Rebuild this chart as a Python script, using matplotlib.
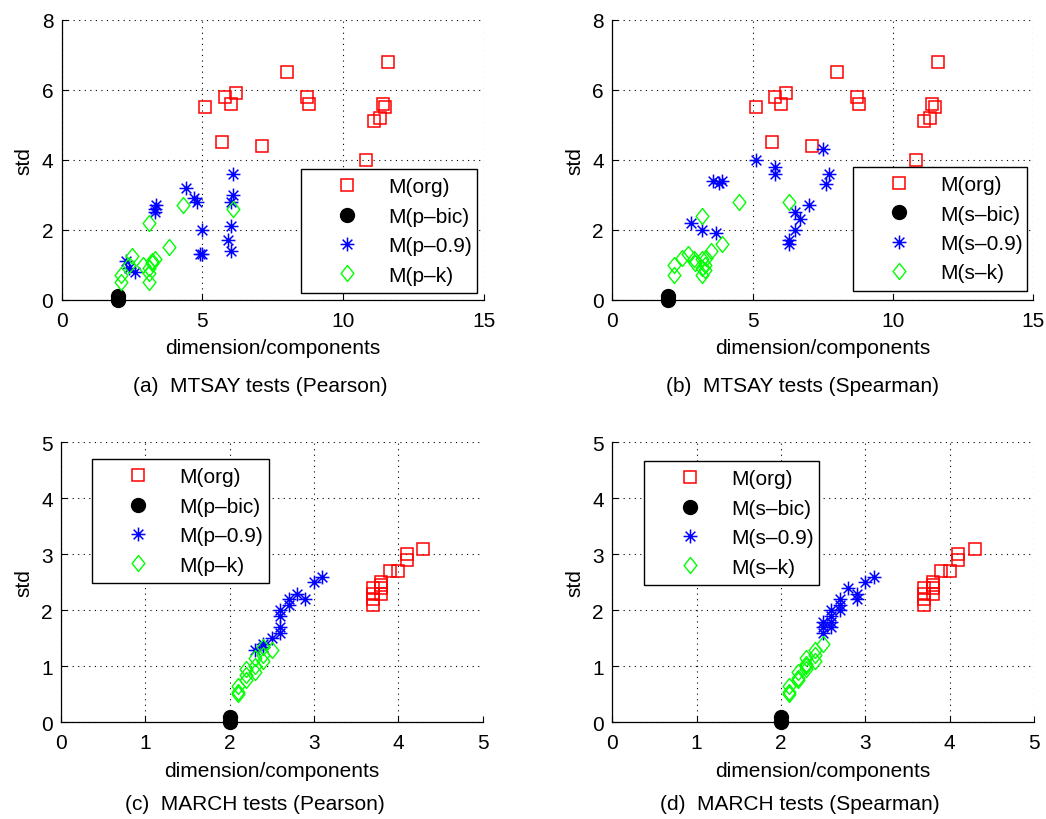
import matplotlib
matplotlib.use("Agg")
import matplotlib.pyplot as plt
from matplotlib.path import Path

# ---------------- data ----------------
# MTSAY (top row) original model, same in both panels
org_top_x = [5.1, 5.8, 6.0, 6.2, 8.0, 8.7, 8.8, 11.6, 11.4, 11.5, 11.3, 11.1, 5.7, 7.1, 10.8]
org_top_y = [5.5, 5.8, 5.6, 5.9, 6.5, 5.8, 5.6, 6.8, 5.6, 5.5, 5.2, 5.1, 4.5, 4.4, 4.0]

bic_x = [2, 2]
bic_y = [0.0, 0.1]

p09_a_x = [4.4, 4.7, 4.8, 3.35, 3.3, 3.3, 6.1, 6.1, 6.0, 5.0, 6.0, 5.9, 6.0, 4.9, 5.0, 2.3, 2.4, 2.6]
p09_a_y = [3.2, 2.9, 2.8, 2.7, 2.6, 2.5, 3.6, 3.0, 2.8, 2.0, 2.1, 1.7, 1.4, 1.3, 1.3, 1.1, 0.9, 0.8]

pk_a_x = [4.3, 6.1, 3.1, 3.8, 2.5, 2.4, 2.9, 3.3, 3.2, 3.1, 3.1, 3.1, 3.2, 2.1, 2.1]
pk_a_y = [2.7, 2.6, 2.2, 1.5, 1.25, 1.0, 1.0, 1.15, 1.05, 0.9, 0.75, 0.5, 1.1, 0.7, 0.5]

s09_b_x = [5.1, 5.8, 5.8, 3.6, 3.8, 3.9, 7.5, 7.7, 7.6, 7.0, 6.5, 6.7, 6.5, 6.3, 6.3, 2.8, 3.2, 3.7]
s09_b_y = [4.0, 3.8, 3.6, 3.4, 3.35, 3.4, 4.3, 3.6, 3.3, 2.7, 2.5, 2.3, 2.0, 1.7, 1.6, 2.2, 2.0, 1.9]

sk_b_x = [4.5, 6.3, 3.2, 3.9, 3.5, 2.2, 2.2, 2.5, 2.7, 2.9, 2.95, 3.2, 3.35, 3.3, 3.2, 3.2, 3.3]
sk_b_y = [2.8, 2.8, 2.4, 1.6, 1.4, 1.0, 0.7, 1.2, 1.3, 1.15, 1.05, 1.15, 1.2, 1.0, 0.9, 0.7, 0.85]

# MARCH (bottom row)
org_bot_x = [4.3, 4.1, 4.1, 4.0, 3.9, 3.8, 3.8, 3.8, 3.8, 3.7, 3.7, 3.7, 3.7]
org_bot_y = [3.1, 3.0, 2.9, 2.7, 2.7, 2.5, 2.4, 2.3, 2.45, 2.4, 2.3, 2.2, 2.1]

p09_c_x = [3.1, 3.0, 2.8, 2.9, 2.7, 2.7, 2.6, 2.6, 2.6, 2.6, 2.5, 2.4, 2.4, 2.3]
p09_c_y = [2.6, 2.5, 2.3, 2.2, 2.2, 2.1, 2.0, 1.9, 1.7, 1.6, 1.5, 1.4, 1.35, 1.3]

pk_c_x = [2.5, 2.4, 2.4, 2.4, 2.3, 2.3, 2.3, 2.2, 2.2, 2.2, 2.1, 2.1, 2.1]
pk_c_y = [1.3, 1.35, 1.2, 1.1, 1.15, 1.0, 0.9, 0.95, 0.85, 0.75, 0.65, 0.55, 0.5]

s09_d_x = [3.1, 3.0, 2.8, 2.9, 2.9, 2.7, 2.7, 2.7, 2.6, 2.6, 2.6, 2.6, 2.5, 2.5, 2.5]
s09_d_y = [2.6, 2.5, 2.4, 2.3, 2.2, 2.2, 2.1, 2.0, 2.0, 1.9, 1.8, 1.7, 1.8, 1.7, 1.6]

sk_d_x = [2.5, 2.4, 2.4, 2.4, 2.3, 2.3, 2.3, 2.3, 2.2, 2.2, 2.2, 2.1, 2.1, 2.1]
sk_d_y = [1.4, 1.3, 1.2, 1.1, 1.15, 1.05, 1.0, 0.95, 0.9, 0.8, 0.75, 0.65, 0.55, 0.5]

top_xticks = [0, 5, 10, 15]
top_yticks = [0, 2, 4, 6, 8]
bot_xticks = [0, 1, 2, 3, 4, 5]
bot_yticks = [0, 1, 2, 3, 4, 5]

labels_p = ["M(org)", "M(p\u2013bic)", "M(p\u20130.9)", "M(p\u2013k)"]
labels_s = ["M(org)", "M(s\u2013bic)", "M(s\u20130.9)", "M(s\u2013k)"]

captions = ["(a)  MTSAY tests (Pearson)", "(b)  MTSAY tests (Spearman)",
            "(c)  MARCH tests (Pearson)", "(d)  MARCH tests (Spearman)"]

# ---------------- style ----------------
plt.rcParams['font.family'] = ['Liberation Sans', 'DejaVu Sans']
FS = 15

star_marker = Path([(-1, 0), (1, 0), (0, -1), (0, 1),
                    (-0.7, -0.7), (0.7, 0.7), (-0.7, 0.7), (0.7, -0.7)],
                   [Path.MOVETO, Path.LINETO] * 4)
diamond_marker = Path([(0, 1), (0.8, 0), (0, -1), (-0.8, 0), (0, 1)],
                      [Path.MOVETO, Path.LINETO, Path.LINETO, Path.LINETO, Path.CLOSEPOLY])

W, H = 1046, 820
fig = plt.figure(figsize=(W / 100, H / 100), dpi=100)

positions = [
    [61.7 / W, 1 - 300.7 / H, 422.3 / W, 279.7 / H],
    [612.3 / W, 1 - 300.7 / H, 421.2 / W, 279.7 / H],
    [61.0 / W, 1 - 723.3 / H, 421.5 / W, 280.0 / H],
    [612.3 / W, 1 - 723.3 / H, 421.5 / W, 280.0 / H],
]

panels = [
    (org_top_x, org_top_y, p09_a_x, p09_a_y, pk_a_x, pk_a_y, labels_p, (0, 15), (0, 8), top_xticks, top_yticks,
     (0.567, 0.024, 0.416, 0.0), 'lower left'),
    (org_top_x, org_top_y, s09_b_x, s09_b_y, sk_b_x, sk_b_y, labels_s, (0, 15), (0, 8), top_xticks, top_yticks,
     (0.571, 0.032, 0.413, 0.0), 'lower left'),
    (org_bot_x, org_bot_y, p09_c_x, p09_c_y, pk_c_x, pk_c_y, labels_p, (0, 5), (0, 5), bot_xticks, bot_yticks,
     (0.074, 0.940, 0.419, 0.0), 'upper left'),
    (org_bot_x, org_bot_y, s09_d_x, s09_d_y, sk_d_x, sk_d_y, labels_s, (0, 5), (0, 5), bot_xticks, bot_yticks,
     (0.075, 0.933, 0.415, 0.0), 'upper left'),
]

for pos, (ox, oy, nx, ny, kx, ky, labs, xl, yl, xt, yt, lbb, lloc) in zip(positions, panels):
    ax = fig.add_axes(pos)
    common = dict(linestyle='none', clip_on=False)
    h1, = ax.plot(ox, oy, marker='s', markersize=8.7, markerfacecolor='none', markeredgewidth=1.1,
                  markeredgecolor='#ff0000', label=labs[0], **common)
    h2, = ax.plot(bic_x, bic_y, marker='o', markersize=10, markerfacecolor='black', markeredgewidth=1.0,
                  markeredgecolor='black', label=labs[1], **common)
    h3, = ax.plot(nx, ny, marker=star_marker, markersize=10, markerfacecolor='none', markeredgewidth=1.1,
                  markeredgecolor='#0000ff', label=labs[2], **common)
    h4, = ax.plot(kx, ky, marker=diamond_marker, markersize=11.5, markerfacecolor='none', markeredgewidth=1.0,
                  markeredgecolor='#00ff00', label=labs[3], **common)

    ax.set_xlim(*xl)
    ax.set_ylim(*yl)
    ax.set_xticks(xt)
    ax.set_yticks(yt)
    ax.spines['top'].set_visible(False)
    ax.spines['right'].set_visible(False)
    for s in ('left', 'bottom'):
        ax.spines[s].set_linewidth(0.9)
    ax.grid(True, linestyle=(0, (1, 4)), color='black', linewidth=0.8)
    ax.tick_params(direction='in', length=4, width=0.8, labelsize=FS)
    ax.tick_params(axis='y', pad=6)
    ax.tick_params(axis='x', pad=8)

    ax.set_xlabel("dimension/components", fontsize=FS)
    ax.set_ylabel("std", fontsize=FS)
    ax.xaxis.set_label_coords(0.5, -0.137)
    ax.yaxis.set_label_coords(-0.066, 0.5)

    leg = ax.legend(handles=[h1, h2, h3, h4], loc=lloc, bbox_to_anchor=lbb, mode='expand',
                    fontsize=FS, frameon=True, fancybox=False, framealpha=1,
                    edgecolor='black', borderpad=0.4, labelspacing=0.5,
                    handlelength=3.6, handletextpad=0.2, borderaxespad=0.0)
    leg.get_frame().set_linewidth(1.0)

caption_pos = [(260, 387), (802, 387), (255, 805), (800, 805)]
for (cx, cy), txt in zip(caption_pos, captions):
    fig.text(cx / W, 1 - cy / H, txt, ha='center', va='center', fontsize=FS)

fig.savefig("out.png", dpi=100)
